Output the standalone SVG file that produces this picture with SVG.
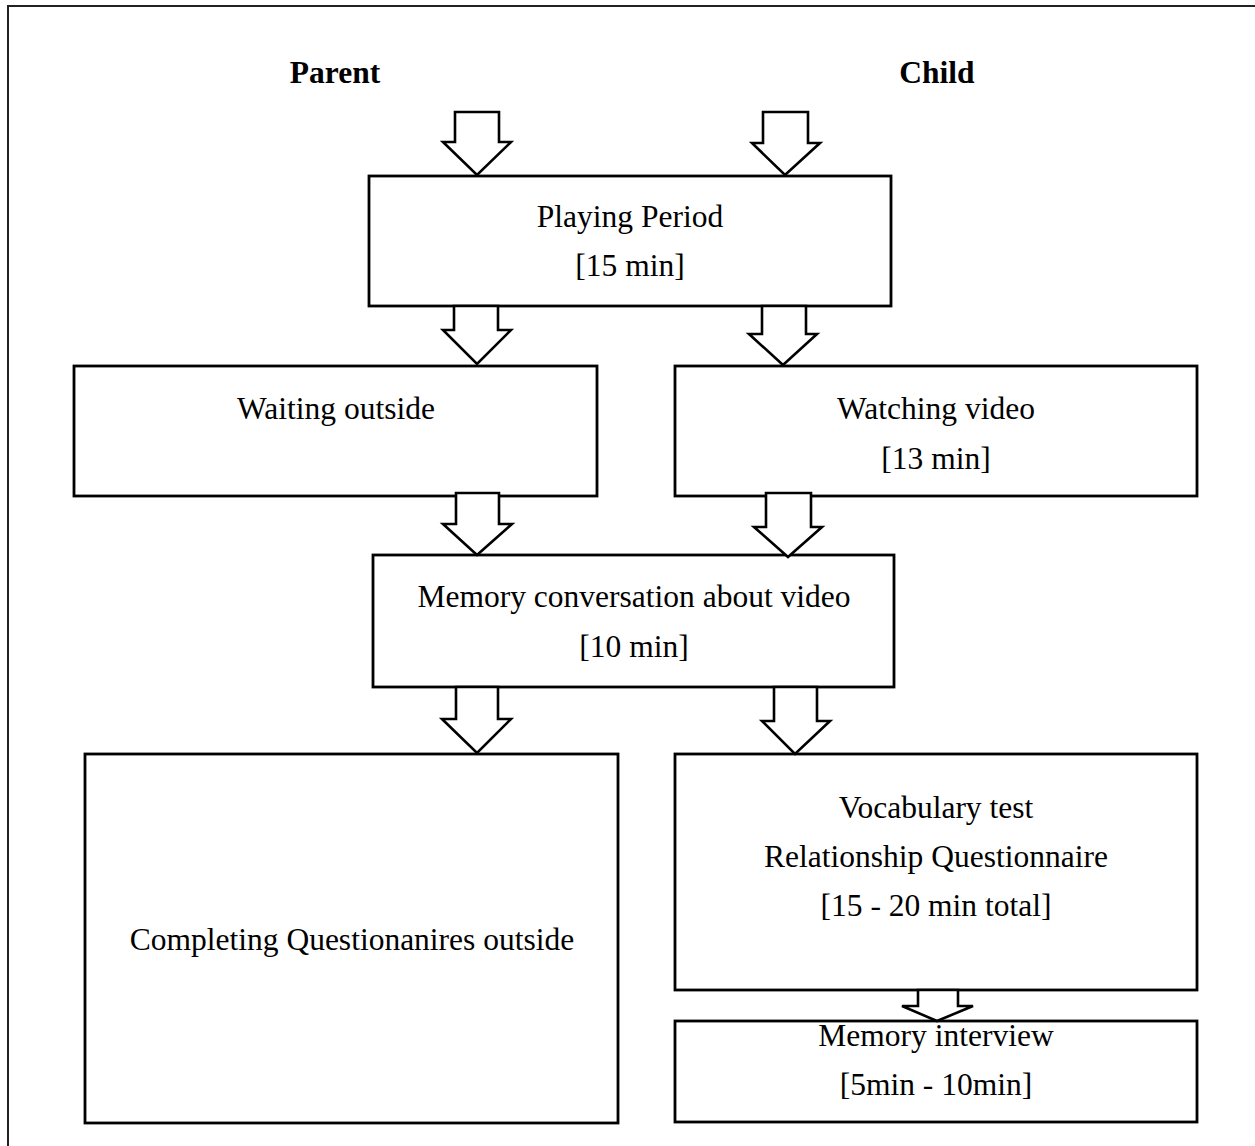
<svg xmlns="http://www.w3.org/2000/svg" width="1255" height="1146" viewBox="0 0 1255 1146">
<style>
.box{fill:#fff;stroke:#000;stroke-width:2.8}
.arr{fill:#fff;stroke:#000;stroke-width:2.6;stroke-linejoin:miter}
.t{font-family:"Liberation Serif","Times New Roman",serif;font-size:31.5px;fill:#000;text-anchor:middle}
.h{font-family:"Liberation Serif","Times New Roman",serif;font-size:31.5px;font-weight:bold;fill:#000;text-anchor:middle}
</style>
<rect x="0" y="0" width="1255" height="1146" fill="#fff"/>
<rect x="8" y="6" width="1300" height="1200" fill="none" stroke="#222" stroke-width="2"/>
<g id="headings">
<text class="h" x="335" y="83">Parent</text>
<text class="h" x="937" y="83">Child</text>
</g>
<g id="playing">
<rect class="box" x="369" y="176" width="522" height="130"/>
<text class="t" x="630" y="227">Playing Period</text>
<text class="t" x="630" y="276">[15 min]</text>
</g>
<g id="waiting">
<rect class="box" x="74" y="366" width="523" height="130"/>
<text class="t" x="336" y="419">Waiting outside</text>
</g>
<g id="watching">
<rect class="box" x="675" y="366" width="522" height="130"/>
<text class="t" x="936" y="419">Watching video</text>
<text class="t" x="936" y="469">[13 min]</text>
</g>
<g id="memoryconv">
<rect class="box" x="373" y="555" width="521" height="132"/>
<text class="t" x="634" y="607">Memory conversation about video</text>
<text class="t" x="634" y="657">[10 min]</text>
</g>
<g id="completing">
<rect class="box" x="85" y="754" width="533" height="369"/>
<text class="t" x="352" y="950">Completing Questionanires outside</text>
</g>
<g id="vocab">
<rect class="box" x="675" y="754" width="522" height="236"/>
<text class="t" x="936" y="818">Vocabulary test</text>
<text class="t" x="936" y="867">Relationship Questionnaire</text>
<text class="t" x="936" y="916">[15 - 20 min total]</text>
</g>
<g id="interview">
<rect class="box" x="675" y="1021" width="522" height="101"/>
<text class="t" x="936" y="1046">Memory interview</text>
<text class="t" x="936" y="1095">[5min - 10min]</text>
</g>
<g id="connectors">
<path class="arr" d="M455,112 L499,112 L499,142 L511,142 L477,175 L443,142 L455,142 Z"/>
<path class="arr" d="M763,112 L808,112 L808,143 L820,143 L785,175 L752,143 L763,143 Z"/>
<path class="arr" d="M454,306 L498,306 L498,330 L511,330 L477,364 L443,330 L454,330 Z"/>
<path class="arr" d="M762,306 L806,306 L806,334 L817,334 L783,365 L749,334 L762,334 Z"/>
<path class="arr" d="M456,493 L499,493 L499,524 L512,524 L477,555 L443,524 L456,524 Z"/>
<path class="arr" d="M766,493 L811,493 L811,527 L822,527 L788,557 L754,527 L766,527 Z"/>
<path class="arr" d="M456,687 L498,687 L498,719 L511,719 L477,753 L442,719 L456,719 Z"/>
<path class="arr" d="M774,687 L817,687 L817,721 L830,721 L795,754 L762,721 L774,721 Z"/>
<path class="arr" d="M918,990 L958,990 L958,1006 L973,1006 L937,1021 L902,1006 L918,1006 Z"/>
</g>
</svg>
